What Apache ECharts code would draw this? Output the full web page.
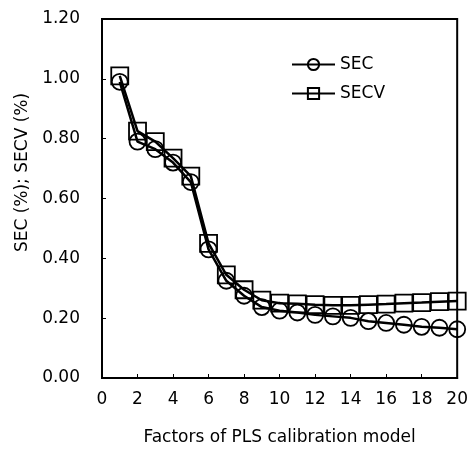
<!DOCTYPE html>
<html>
<head>
<meta charset="utf-8">
<script src="https://cdn.jsdelivr.net/npm/echarts@6/dist/echarts.min.js"></script>
<style>html,body{margin:0;padding:0;background:#fff;}#c{width:471px;height:451px;}</style>
</head>
<body>
<div id="c"></div>
<script>
const factors = [1,2,3,4,5,6,7,8,9,10,11,12,13,14,15,16,17,18,19,20];
const secValues = [0.99,0.79,0.765,0.72,0.655,0.43,0.325,0.275,0.237,0.225,0.219,0.211,0.206,0.201,0.19,0.184,0.178,0.171,0.168,0.163];
const secvValues = [1.01,0.825,0.79,0.735,0.675,0.45,0.345,0.295,0.26,0.25,0.248,0.245,0.243,0.243,0.245,0.247,0.25,0.252,0.255,0.257];
const seriesNames = ['SEC','SECV'];
const xTitle = 'Factors of PLS calibration model';
const yTitle = 'SEC (%); SECV (%)';

const FONT = 'DejaVu Sans';
const chart = echarts.init(document.getElementById('c'), null, {renderer:'canvas'});
const mk = (vals) => factors.map((f,i)=>[f, vals[i]]);
chart.setOption({
  animation:false,
  backgroundColor:'#fff',
  grid:{left:102,right:13,top:19,bottom:72,show:true,borderColor:'#000',borderWidth:2,backgroundColor:'transparent'},
  legend:{
    orient:'vertical', left:286, top:51, itemWidth:43, itemHeight:14, itemGap:12,
    textStyle:{fontFamily:FONT,fontSize:17,color:'#000',lineHeight:14},
    data:seriesNames
  },
  xAxis:{
    type:'value', min:0, max:20, interval:2,
    name:xTitle, nameLocation:'middle', nameGap:51,
    nameTextStyle:{fontFamily:FONT,fontSize:17,color:'#000'},
    axisLine:{lineStyle:{color:'#000',width:2}},
    axisTick:{inside:true,length:4,lineStyle:{color:'#000'}},
    axisLabel:{fontFamily:FONT,fontSize:17,color:'#000',margin:13},
    splitLine:{show:false}
  },
  yAxis:{
    type:'value', min:0, max:1.2, interval:0.2,
    name:yTitle, nameLocation:'middle', nameGap:70,
    nameTextStyle:{fontFamily:FONT,fontSize:17,color:'#000',padding:[0,0,0,52]},
    axisLine:{show:true,lineStyle:{color:'#000',width:2}},
    axisTick:{show:true,inside:true,length:4,lineStyle:{color:'#000'}},
    axisLabel:{fontFamily:FONT,fontSize:17,color:'#000',margin:22,formatter:v=>v.toFixed(2)},
    splitLine:{show:false}
  },
  series:[
    {name:seriesNames[0], type:'line', data:mk(secValues), symbol:'circle', symbolSize:16,
     lineStyle:{color:'#000',width:2.5},
     itemStyle:{color:'rgba(255,255,255,0)',borderColor:'#000',borderWidth:1.8}},
    {name:seriesNames[1], type:'line', data:mk(secvValues), symbol:'rect', symbolSize:17,
     lineStyle:{color:'#000',width:2.5},
     itemStyle:{color:'rgba(255,255,255,0)',borderColor:'#000',borderWidth:1.8}}
  ]
});
</script>
</body>
</html>
